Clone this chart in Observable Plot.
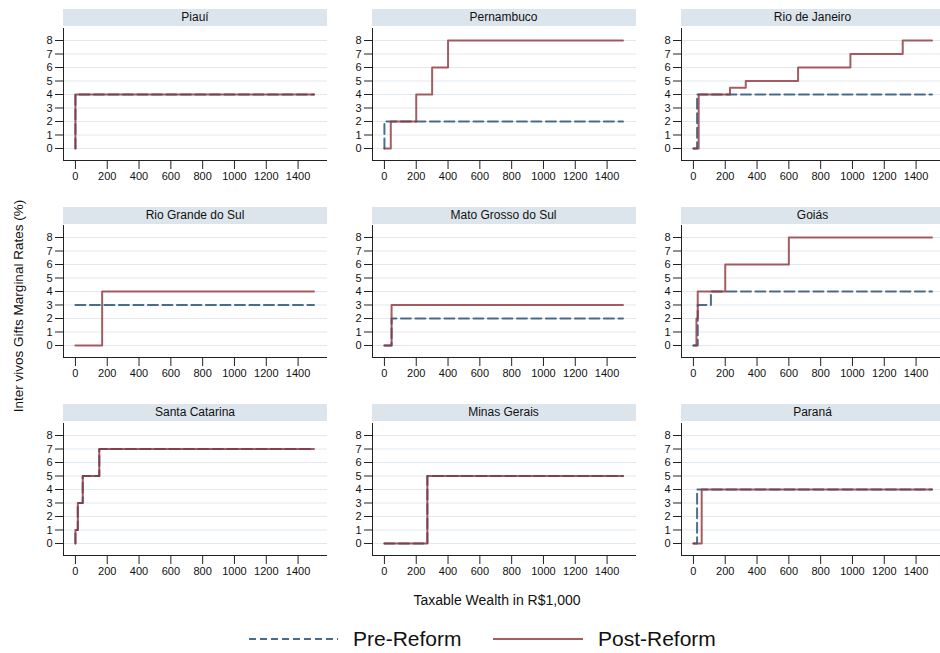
<!DOCTYPE html>
<html>
<head>
<meta charset="utf-8">
<script src="https://cdn.jsdelivr.net/npm/d3@7"></script>
<script src="https://cdn.jsdelivr.net/npm/@observablehq/plot@0.6"></script>
<style>
  html, body { margin: 0; padding: 0; background: #fff; }
  #chart { position: relative; width: 940px; height: 653px; font-family: "Liberation Sans", Arial, Helvetica, sans-serif; color: #000; }
  .panel { position: absolute; }
  .strip { position: absolute; background: #dce5eb; font-size: 12px; font-weight: normal; text-align: center; line-height: 17px; height: 17px; color: #111; }
  .title { position: absolute; white-space: nowrap; color: #111; }
  .legend { position: absolute; font-size: 21px; white-space: nowrap; color: #111; }
</style>
</head>
<body>
<div id="chart"></div>
<script>
// ---- Data (wealth thresholds in R$1,000 and marginal rates in %) ----
const states = ["Piauí", "Pernambuco", "Rio de Janeiro", "Rio Grande do Sul", "Mato Grosso do Sul", "Goiás", "Santa Catarina", "Minas Gerais", "Paraná"];

const piauiPreX = [0, 0, 1500];               const piauiPreY = [0, 4, 4];
const piauiPostX = [0, 0, 1500];              const piauiPostY = [0, 4, 4];
const pernambucoPreX = [0, 0, 1500];          const pernambucoPreY = [0, 2, 2];
const pernambucoPostX = [0, 40, 200, 300, 400, 1500]; const pernambucoPostY = [0, 2, 4, 6, 8, 8];
const rioPreX = [0, 23, 1500];                const rioPreY = [0, 4, 4];
const rioPostX = [0, 33, 230, 329, 658, 987, 1316, 1500]; const rioPostY = [0, 4, 4.5, 5, 6, 7, 8, 8];
const rgsPreX = [0, 1500];                    const rgsPreY = [3, 3];
const rgsPostX = [0, 168, 1500];              const rgsPostY = [0, 4, 4];
const msPreX = [0, 45, 1500];                 const msPreY = [0, 2, 2];
const msPostX = [0, 45, 1500];                const msPostY = [0, 3, 3];
const goiasPreX = [0, 27, 110, 1500];         const goiasPreY = [0, 3, 4, 4];
const goiasPostX = [0, 19, 27, 200, 600, 1500]; const goiasPostY = [0, 2, 4, 6, 8, 8];
const scPreX = [0, 0, 15, 46, 150, 1500];     const scPreY = [0, 1, 3, 5, 7, 7];
const scPostX = [0, 0, 15, 46, 150, 1500];    const scPostY = [0, 1, 3, 5, 7, 7];
const mgPreX = [0, 270, 1500];                const mgPreY = [0, 5, 5];
const mgPostX = [0, 270, 1500];               const mgPostY = [0, 5, 5];
const prPreX = [0, 23, 1500];                 const prPreY = [0, 4, 4];
const prPostX = [0, 52, 1500];                const prPostY = [0, 4, 4];

const xTicks = [0, 200, 400, 600, 800, 1000, 1200, 1400];
const yTicks = [0, 1, 2, 3, 4, 5, 6, 7, 8];
const seriesNames = ["Pre-Reform", "Post-Reform"];

const preXs = [piauiPreX, pernambucoPreX, rioPreX, rgsPreX, msPreX, goiasPreX, scPreX, mgPreX, prPreX];
const preYs = [piauiPreY, pernambucoPreY, rioPreY, rgsPreY, msPreY, goiasPreY, scPreY, mgPreY, prPreY];
const postXs = [piauiPostX, pernambucoPostX, rioPostX, rgsPostX, msPostX, goiasPostX, scPostX, mgPostX, prPostX];
const postYs = [piauiPostY, pernambucoPostY, rioPostY, rgsPostY, msPostY, goiasPostY, scPostY, mgPostY, prPostY];

// ---- Layout ----
const preColor = "#1a476f", postColor = "#90353b";
const colLeft = [63, 371.5, 680.5];       // x of left axis line per column
const rowTop = [27.5, 225, 422.5];        // y of plot-area top per row
const plotW = 264, plotH = 132;
const mL = 30, mR = 2, mT = 1, mB = 24;

const chart = document.getElementById("chart");
const pairs = (xs, ys) => xs.map((x, i) => ({x, y: ys[i]}));

states.forEach((name, i) => {
  const c = i % 3, r = Math.floor(i / 3);
  const strip = document.createElement("div");
  strip.className = "strip";
  strip.style.left = colLeft[c] + "px";
  strip.style.top = (rowTop[r] - 18.5) + "px";
  strip.style.width = plotW + "px";
  strip.textContent = name;
  chart.appendChild(strip);

  const pre = pairs(preXs[i], preYs[i]);
  const post = pairs(postXs[i], postYs[i]);
  const yMin = -0.889, yMax = 8.889;
  const svg = Plot.plot({
    width: plotW + mL + mR,
    height: plotH + mT + mB,
    marginLeft: mL, marginRight: mR, marginTop: mT, marginBottom: mB,
    style: {fontFamily: "Liberation Sans, Arial, Helvetica, sans-serif", fontSize: "11px", color: "#111", background: "transparent", overflow: "visible"},
    x: {domain: [-75, 1585], axis: null},
    y: {domain: [yMin, yMax], axis: null},
    marks: [
      Plot.ruleY(yTicks, {stroke: "#e1e9ee", strokeWidth: 1}),
      Plot.line(pre, {x: "x", y: "y", curve: "step-after", stroke: preColor, strokeOpacity: 0.78, strokeWidth: 2, strokeDasharray: "10,4.5"}),
      Plot.line(post, {x: "x", y: "y", curve: "step-after", stroke: postColor, strokeOpacity: 0.8, strokeWidth: 2}),
      Plot.ruleX([-75], {stroke: "#222", strokeWidth: 1}),
      Plot.ruleY([yMin], {stroke: "#222", strokeWidth: 1}),
      Plot.axisX(xTicks, {anchor: "bottom", tickSize: 9, tickPadding: 3, tickFormat: d => String(d), label: null, stroke: "#222"}),
      Plot.axisY(yTicks, {anchor: "left", tickSize: 8, tickPadding: 3, tickFormat: d => String(d), label: null, stroke: "#222"})
    ]
  });
  svg.classList.add("panel");
  svg.style.left = (colLeft[c] - mL) + "px";
  svg.style.top = (rowTop[r] - mT) + "px";
  chart.appendChild(svg);
});

// axis titles
const xTitle = document.createElement("div");
xTitle.className = "title";
xTitle.textContent = "Taxable Wealth in R$1,000";
xTitle.style.fontSize = "14px";
xTitle.style.left = "497px"; xTitle.style.top = "600px";
xTitle.style.transform = "translate(-50%, -50%)";
chart.appendChild(xTitle);

const yTitle = document.createElement("div");
yTitle.className = "title";
yTitle.textContent = "Inter vivos Gifts Marginal Rates (%)";
yTitle.style.fontSize = "13.5px";
yTitle.style.left = "18px"; yTitle.style.top = "306px";
yTitle.style.transform = "translate(-50%, -50%) rotate(-90deg)";
chart.appendChild(yTitle);

// legend
const legendItems = [
  {label: seriesNames[0], color: preColor, dash: "7,4", x1: 249, x2: 338, tx: 353},
  {label: seriesNames[1], color: postColor, dash: null, x1: 493, x2: 583, tx: 598}
];
legendItems.forEach(it => {
  const s = d3.create("svg").attr("width", it.x2 - it.x1).attr("height", 6)
    .style("position", "absolute").style("left", it.x1 + "px").style("top", "636px");
  s.append("line").attr("x1", 0).attr("x2", it.x2 - it.x1).attr("y1", 3).attr("y2", 3)
    .attr("stroke", it.color).attr("stroke-opacity", 0.8).attr("stroke-width", 2)
    .attr("stroke-dasharray", it.dash);
  chart.appendChild(s.node());
  const t = document.createElement("div");
  t.className = "legend";
  t.textContent = it.label;
  t.style.left = it.tx + "px"; t.style.top = "639px";
  t.style.transform = "translateY(-50%)";
  chart.appendChild(t);
});
</script>
</body>
</html>
